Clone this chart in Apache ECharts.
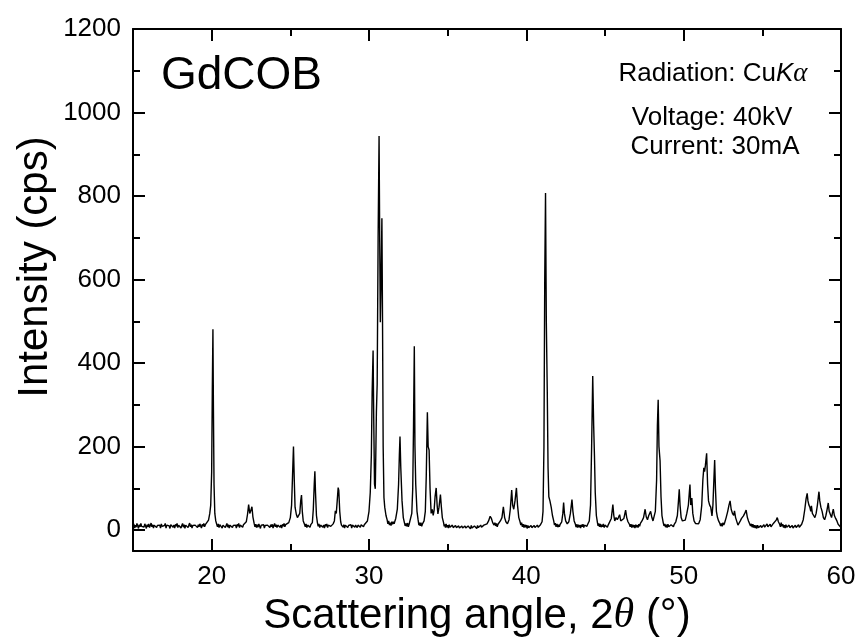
<!DOCTYPE html>
<html>
<head>
<meta charset="utf-8">
<script src="https://cdn.jsdelivr.net/npm/echarts@6/dist/echarts.min.js"></script>
<style>html,body{margin:0;padding:0;background:#fff}#c{width:861px;height:642px}</style>
</head>
<body>
<div id="c"></div>
<script>
// XRD pattern of GdCOB: [2theta (deg), intensity (cps)]
var pattern = [
[15.0,9],[15.05,15],[15.1,5],[15.15,12],[15.2,7],[15.25,16],[15.3,10],[15.35,4],[15.4,13],[15.45,8],
[15.5,16],[15.55,9],[15.6,5],[15.65,12],[15.7,7],[15.75,15],[15.8,10],[15.85,4],[15.9,13],[15.95,8],
[16.0,15],[16.05,6],[16.1,11],[16.15,17],[16.2,8],[16.25,13],[16.3,5],[16.35,12],[16.4,9],[16.45,16],
[16.5,6],[16.55,11],[16.6,14],[16.65,7],[16.7,12],[16.75,5],[16.8,15],[16.85,9],[16.9,13],[16.95,6],
[17.0,11],[17.05,16],[17.1,5],[17.15,12],[17.2,8],[17.25,15],[17.3,10],[17.35,4],[17.4,13],[17.45,9],
[17.5,16],[17.55,7],[17.6,12],[17.65,5],[17.7,14],[17.75,9],[17.8,16],[17.85,6],[17.9,12],[17.95,8],
[18.0,14],[18.05,5],[18.1,11],[18.15,16],[18.2,7],[18.25,13],[18.3,4],[18.35,12],[18.4,9],[18.45,15],
[18.5,6],[18.55,12],[18.6,17],[18.65,8],[18.7,13],[18.75,5],[18.8,11],[18.85,15],[18.9,7],[18.95,12],
[19.0,9],[19.05,16],[19.1,6],[19.15,13],[19.2,8],[19.25,15],[19.3,10],[19.35,5],[19.4,14],[19.45,9],
[19.5,16],[19.55,8],[19.6,13],[19.65,10],[19.7,17],
[19.8,24],[19.88,40],[19.94,60],[20.0,140],[20.04,330],[20.08,481],[20.11,300],[20.15,110],[20.2,40],[20.26,22],
[20.32,14],[20.37,8],[20.42,15],[20.47,6],[20.52,13],[20.57,9],[20.62,16],[20.67,5],[20.72,12],[20.77,8],
[20.82,15],[20.87,6],[20.92,11],[20.97,16],[21.02,7],[21.07,13],[21.12,5],[21.17,12],[21.22,9],[21.27,16],
[21.32,6],[21.37,11],[21.42,15],[21.47,7],[21.52,12],[21.57,5],[21.62,14],[21.67,9],[21.72,16],[21.77,6],
[21.82,12],[21.87,8],[21.92,15],[21.97,7],[22.02,13],[22.07,10],[22.12,16],[22.2,20],
[22.28,38],[22.35,61],[22.42,40],[22.48,46],[22.56,56],[22.62,32],[22.7,16],[22.75,8],[22.8,14],[22.85,6],
[22.9,13],[22.95,7],[23.0,15],[23.05,9],[23.1,4],[23.15,12],[23.2,16],[23.25,8],[23.3,13],[23.35,5],
[23.4,11],[23.45,15],[23.5,7],[23.55,12],[23.6,9],[23.65,16],[23.7,6],[23.75,13],[23.8,8],[23.85,14],
[23.9,5],[23.95,11],[24.0,16],[24.05,8],[24.1,13],[24.15,6],[24.2,12],[24.25,9],[24.3,15],[24.35,7],
[24.4,12],[24.45,5],[24.5,14],[24.55,9],[24.6,16],[24.65,8],[24.7,13],[24.75,10],[24.8,17],[24.9,18],[25.0,30],
[25.08,60],[25.14,130],[25.2,200],[25.25,120],[25.3,55],[25.38,38],[25.45,30],[25.52,28],[25.6,40],[25.66,70],
[25.71,84],[25.76,45],[25.82,22],[25.9,14],[25.95,8],[26.0,15],[26.05,6],[26.1,12],[26.15,9],[26.2,16],
[26.25,7],[26.3,13],[26.35,10],[26.4,18],[26.46,50],
[26.52,110],[26.56,141],[26.6,90],[26.66,35],[26.72,18],[26.77,9],[26.82,15],[26.87,6],[26.92,12],[26.97,8],
[27.02,16],[27.07,7],[27.12,12],[27.17,5],[27.22,14],[27.27,9],[27.32,15],[27.37,6],[27.42,12],[27.47,8],
[27.52,16],[27.57,9],[27.62,13],[27.67,8],[27.72,15],[27.8,22],[27.86,46],[27.92,40],[27.98,70],[28.04,102],
[28.08,95],[28.14,45],[28.2,20],[28.25,12],[28.3,16],[28.35,7],[28.4,13],[28.45,5],[28.5,12],[28.55,9],
[28.6,16],[28.65,6],[28.7,11],[28.75,15],[28.8,7],[28.85,13],[28.9,5],[28.95,12],[29.0,9],[29.05,16],
[29.1,7],[29.15,12],[29.2,14],[29.25,6],[29.3,12],[29.35,9],[29.4,15],[29.45,7],[29.5,13],[29.55,10],
[29.6,16],[29.65,8],[29.7,13],[29.75,11],[29.8,17],[29.9,22],
[30.0,45],[30.08,90],[30.15,180],[30.2,330],[30.26,430],[30.3,270],[30.35,110],[30.4,99],[30.44,200],[30.47,282],
[30.52,350],[30.58,700],[30.64,944],[30.68,700],[30.72,498],[30.77,600],[30.82,747],[30.86,500],[30.9,200],[30.95,78],
[31.0,55],[31.08,35],[31.15,25],[31.2,15],[31.25,22],[31.3,12],[31.35,18],[31.4,11],[31.45,20],[31.5,14],
[31.55,20],[31.6,15],[31.65,22],[31.7,28],[31.8,50],
[31.88,110],[31.93,180],[31.97,224],[32.02,150],[32.05,150],[32.1,70],[32.18,30],[32.25,18],[32.3,10],[32.35,16],
[32.4,9],[32.45,17],[32.5,8],[32.55,14],[32.6,10],[32.65,18],[32.72,40],[32.78,100],[32.83,250],[32.88,440],
[32.92,202],[32.97,110],[33.05,45],[33.12,25],[33.17,12],[33.2,18],[33.25,10],[33.3,18],[33.35,9],[33.4,15],
[33.45,12],[33.5,22],[33.58,45],[33.64,130],[33.71,282],[33.76,200],[33.82,192],[33.88,100],
[33.95,40],[34.02,50],[34.08,35],[34.14,48],[34.2,80],[34.27,101],[34.33,60],[34.38,39],[34.45,55],[34.54,85],
[34.6,55],[34.66,30],[34.74,18],[34.78,9],[34.82,14],[34.86,6],[34.9,15],[34.95,7],[35.0,12],[35.05,5],
[35.1,13],[35.15,7],[35.2,11],[35.25,4],[35.3,12],[35.35,6],[35.4,10],[35.45,3],[35.5,11],[35.55,6],
[35.6,9],[35.65,3],[35.7,10],[35.75,5],[35.8,9],[35.85,2],[35.9,10],[35.95,5],[36.0,8],[36.05,3],
[36.1,10],[36.15,5],[36.2,8],[36.25,2],[36.3,10],[36.35,6],[36.4,9],[36.45,3],[36.5,11],[36.55,5],
[36.6,8],[36.65,3],[36.7,10],[36.75,6],[36.8,9],[36.85,4],[36.9,11],[36.95,6],[37.0,9],[37.05,4],
[37.1,12],[37.15,7],[37.2,10],[37.25,5],[37.3,12],[37.35,8],[37.4,14],
[37.5,15],[37.6,22],[37.7,33],[37.78,28],[37.86,18],[37.95,12],[38.0,18],[38.05,10],[38.1,16],[38.15,8],[38.2,14],[38.25,12],[38.35,22],
[38.45,30],[38.54,56],[38.62,30],[38.7,20],[38.8,15],[38.9,25],[38.98,50],[39.07,96],[39.13,60],[39.2,50],
[39.28,70],[39.37,101],[39.44,60],[39.52,30],[39.6,20],[39.65,12],[39.7,18],[39.75,8],[39.8,14],[39.85,6],
[39.9,13],[39.95,7],[40.0,12],[40.05,4],[40.1,11],[40.15,6],[40.2,10],[40.25,3],[40.3,11],[40.35,6],
[40.4,9],[40.45,4],[40.5,11],[40.55,6],[40.6,10],[40.65,5],[40.7,12],[40.75,7],[40.8,11],[40.85,6],
[40.9,13],[41.0,20],[41.06,45],
[41.12,200],[41.17,600],[41.22,807],[41.27,500],[41.33,334],[41.38,150],[41.43,80],[41.5,70],[41.58,55],[41.66,35],
[41.74,22],[41.79,12],[41.84,17],[41.89,8],[41.95,15],[42.0,7],[42.05,13],[42.1,8],[42.15,14],[42.2,12],[42.25,20],
[42.32,40],[42.37,66],[42.42,40],[42.5,22],
[42.6,15],[42.7,20],[42.8,40],[42.9,73],[42.96,45],[43.04,22],[43.12,14],[43.16,7],[43.2,14],[43.25,6],
[43.3,13],[43.35,7],[43.4,12],[43.45,5],[43.5,13],[43.55,8],[43.6,14],[43.65,6],[43.7,12],[43.75,8],
[43.8,15],[43.85,9],[43.9,14],[44.0,22],[44.08,60],[44.15,200],[44.22,369],[44.28,250],
[44.33,178],[44.38,90],[44.45,35],[44.52,18],[44.56,10],[44.6,16],[44.65,8],[44.7,15],[44.75,7],[44.8,13],
[44.85,8],[44.9,15],[44.95,6],[45.0,12],[45.05,8],[45.1,15],[45.15,7],
[45.2,12],[45.25,9],[45.3,16],[45.4,28],[45.5,61],[45.56,35],[45.62,22],[45.7,30],[45.78,25],[45.85,30],[45.93,37],
[46.0,22],[46.1,18],[46.2,28],[46.31,48],[46.38,30],[46.46,20],[46.55,14],[46.6,8],[46.65,14],[46.7,6],
[46.75,13],[46.8,7],[46.85,12],[46.9,5],[46.95,13],[47.0,7],[47.05,12],[47.1,6],[47.15,14],[47.2,9],
[47.25,16],[47.35,22],[47.45,30],[47.55,50],[47.62,32],[47.7,25],[47.78,35],
[47.9,45],[47.98,30],[48.05,22],[48.12,25],[48.2,45],[48.28,120],[48.33,250],[48.38,312],[48.43,200],[48.5,166],
[48.56,80],[48.62,35],[48.7,18],[48.75,10],[48.8,15],[48.85,7],[48.9,13],[48.95,6],[49.0,14],[49.05,8],
[49.1,12],[49.15,6],[49.2,13],[49.25,9],[49.3,15],[49.35,8],[49.4,14],
[49.5,20],[49.6,35],[49.67,70],[49.72,98],[49.77,60],[49.84,30],[49.92,22],[50.0,18],[50.1,24],[50.2,40],
[50.3,60],[50.36,90],[50.4,109],[50.45,60],[50.52,77],[50.58,40],[50.66,22],[50.75,16],[50.85,12],[50.95,15],
[51.05,25],[51.15,60],[51.22,120],[51.28,149],[51.33,140],[51.38,155],[51.46,184],[51.52,110],[51.58,70],[51.65,60],
[51.72,55],[51.8,34],[51.86,60],[51.92,120],[51.97,168],[52.02,100],[52.08,45],[52.15,30],[52.22,22],[52.3,16],
[52.35,10],[52.4,16],[52.45,9],[52.5,18],[52.55,12],[52.6,17],[52.7,30],[52.8,45],[52.88,60],[52.95,70],[53.02,50],[53.1,40],[53.18,35],
[53.23,46],[53.3,30],[53.4,18],[53.45,12],[53.5,16],[53.6,22],[53.68,28],[53.75,30],[53.8,34],[53.88,40],[53.97,48],
[54.05,30],[54.12,22],[54.2,18],[54.25,10],[54.3,15],[54.35,7],[54.4,14],[54.45,6],[54.5,12],[54.55,5],
[54.6,11],[54.65,4],[54.7,12],[54.75,6],[54.8,10],[54.85,4],[54.9,11],[54.95,6],[55.0,10],[55.05,5],
[55.1,13],[55.15,7],[55.2,11],[55.25,6],[55.3,15],[55.35,8],[55.4,12],[55.45,7],[55.5,14],[55.55,8],
[55.6,12],[55.65,9],[55.7,16],[55.8,18],[55.88,24],
[55.95,30],[56.02,20],[56.1,14],[56.15,8],[56.2,18],[56.25,9],[56.3,14],[56.35,6],[56.4,12],[56.45,5],
[56.5,13],[56.55,7],[56.6,11],[56.65,4],[56.7,12],[56.75,6],[56.8,10],[56.85,4],[56.9,11],[56.95,5],
[57.0,9],[57.05,4],[57.1,12],[57.15,6],[57.2,10],[57.25,5],[57.3,13],[57.35,7],[57.4,11],[57.45,8],
[57.5,14],[57.6,25],[57.7,50],[57.78,75],
[57.85,88],[57.9,70],[57.96,60],[58.02,55],[58.08,45],[58.12,58],[58.18,40],[58.26,35],[58.34,30],[58.42,40],
[58.5,60],[58.56,80],[58.6,92],[58.65,70],[58.72,55],[58.8,45],[58.88,30],[58.96,25],[59.04,35],[59.12,50],
[59.19,65],[59.25,45],[59.32,38],[59.4,30],[59.46,42],[59.51,50],[59.58,35],[59.66,28],[59.74,22],[59.82,14],
[59.9,10],[60.0,6]
];

var xRange = [15, 60];
var yRange = [-50, 1200];
var xMajorTicks = [20, 30, 40, 50, 60];
var xMinorTicks = [25, 35, 45, 55];
var yMajorTicks = [0, 200, 400, 600, 800, 1000, 1200];
var yMinorTicks = [100, 300, 500, 700, 900, 1100];

var sampleName = 'GdCOB';
var infoLines = ['Radiation: Cu{k|K}{a|α}', 'Voltage: 40kV', 'Current: 30mA'];
var xTitle = 'Scattering angle, 2{t|θ} (°)';
var yTitle = 'Intensity (cps)';

var FONT = 'Liberation Sans, Arial, sans-serif';
var SERIF = 'Liberation Serif, Times New Roman, serif';

function plain(v) { return String(v); }

function xAx(pos, ticks, len, showLine, showLabel) {
  return {
    type: 'value', min: xRange[0], max: xRange[1], position: pos,
    axisLine: { show: showLine, onZero: false, lineStyle: { color: '#000', width: 2 } },
    axisTick: { show: true, inside: true, length: len, customValues: ticks, lineStyle: { color: '#000', width: 2 } },
    axisLabel: { show: showLabel, customValues: ticks, formatter: plain, color: '#000', fontSize: 26, fontFamily: FONT, margin: 13 },
    splitLine: { show: false }
  };
}
function yAx(pos, ticks, len, showLine, showLabel) {
  return {
    type: 'value', min: yRange[0], max: yRange[1], position: pos,
    axisLine: { show: showLine, onZero: false, lineStyle: { color: '#000', width: 2 } },
    axisTick: { show: true, inside: true, length: len, customValues: ticks, lineStyle: { color: '#000', width: 2 } },
    axisLabel: { show: showLabel, customValues: ticks, formatter: plain, color: '#000', fontSize: 26, fontFamily: FONT, margin: 12 },
    splitLine: { show: false }
  };
}

var chart = echarts.init(document.getElementById('c'), null, { renderer: 'canvas' });
chart.setOption({
  animation: false,
  backgroundColor: '#fff',
  grid: { left: 133, right: 20, top: 29, bottom: 91, containLabel: false },
  xAxis: [
    xAx('bottom', xMajorTicks, 12, true, true),
    xAx('bottom', xMinorTicks, 7, false, false),
    xAx('top', xMajorTicks, 12, true, false),
    xAx('top', xMinorTicks, 7, false, false)
  ],
  yAxis: [
    yAx('left', yMajorTicks, 12, true, true),
    yAx('left', yMinorTicks, 7, false, false),
    yAx('right', yMajorTicks, 12, true, false),
    yAx('right', yMinorTicks, 7, false, false)
  ],
  series: [{
    type: 'line', xAxisIndex: 0, yAxisIndex: 0,
    data: pattern, showSymbol: false, symbol: 'none',
    lineStyle: { color: '#000', width: 1.4 }
  }],
  graphic: [
    { type: 'text', left: 161, top: 53, style: { text: sampleName, fontSize: 46, fontFamily: FONT, fill: '#000' } },
    { type: 'text', x: 713, y: 74, style: { text: infoLines[0], align: 'center', verticalAlign: 'middle', fontSize: 26, fontFamily: FONT, fill: '#000',
        rich: { k: { fontStyle: 'italic', fontSize: 26, fontFamily: FONT }, a: { fontStyle: 'italic', fontSize: 27, fontFamily: SERIF } } } },
    { type: 'text', x: 712, y: 118, style: { text: infoLines[1], align: 'center', verticalAlign: 'middle', fontSize: 26, fontFamily: FONT, fill: '#000' } },
    { type: 'text', x: 715, y: 147, style: { text: infoLines[2], align: 'center', verticalAlign: 'middle', fontSize: 26, fontFamily: FONT, fill: '#000' } },
    { type: 'text', x: 477, y: 616, style: { text: xTitle, align: 'center', verticalAlign: 'middle', fontSize: 42, fontFamily: FONT, fill: '#000',
        rich: { t: { fontStyle: 'italic', fontSize: 42, fontFamily: SERIF } } } },
    { type: 'text', x: 35, y: 267, rotation: Math.PI / 2, style: { text: yTitle, align: 'center', verticalAlign: 'middle', fontSize: 42, fontFamily: FONT, fill: '#000' } }
  ]
});
</script>
</body>
</html>
